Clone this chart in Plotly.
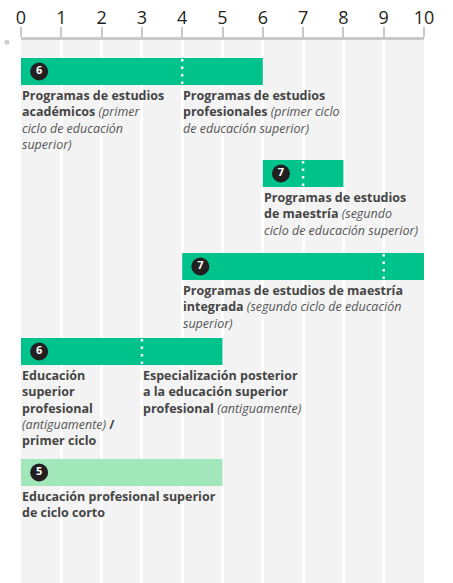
import plotly.graph_objects as go

# --- data ---
years = list(range(0, 11))
bar_start = [0, 6, 4, 0, 0]
bar_end = [6, 8, 10, 5, 5]
bar_split = [4, 7, 9, 3, None]
bar_level = ["6", "7", "7", "6", "5"]
bar_short = [False, False, False, False, True]   # short-cycle tertiary (lighter colour)
row_y = [31.5, 133.5, 226.5, 311.5, 432.5]         # vertical slot of each row (px from axis)

label_row = [0, 0, 1, 2, 3, 3, 4]
label_x = [0, 4, 6, 4, 0, 3, 0]
label_text = [
    "<b>Programas de estudios<br>académicos</b> <i>(primer<br>ciclo de educación<br>superior)</i>",
    "<b>Programas de estudios<br>profesionales</b> <i>(primer ciclo<br>de educación superior)</i>",
    "<b>Programas de estudios<br>de maestría</b> <i>(segundo<br>ciclo de educación superior)</i>",
    "<b>Programas de estudios de maestría<br>integrada</b> <i>(segundo ciclo de educación<br>superior)</i>",
    "<b>Educación<br>superior<br>profesional</b><br><i>(antiguamente)</i> <b>/</b><br><b>primer ciclo</b>",
    "<b>Especialización posterior<br>a la educación superior<br>profesional</b> <i>(antiguamente)</i>",
    "<b>Educación profesional superior<br>de ciclo corto</b>",
]

GREEN = "#00c28b"
LIGHT = "#a2e7b9"
FONT = "Open Sans"
BAR_H = 27

fig = go.Figure()

# bars
fig.add_trace(go.Bar(
    orientation="h",
    y=row_y,
    x=[e - s for s, e in zip(bar_start, bar_end)],
    base=bar_start,
    width=BAR_H,
    marker=dict(color=[LIGHT if s else GREEN for s in bar_short], line_width=0),
    hoverinfo="skip",
))

# dotted dividers
dx, dy = [], []
for sp, y in zip(bar_split, row_y):
    if sp is None:
        continue
    dx += [sp, sp, None]
    dy += [y - BAR_H / 2 + 1, y + BAR_H / 2, None]
fig.add_trace(go.Scatter(
    x=dx, y=dy, mode="lines",
    line=dict(color="white", width=2.5, dash="2.5px,5px"),
    hoverinfo="skip",
))

# level badges
fig.add_trace(go.Scatter(
    x=[s + 0.45 for s in bar_start], y=row_y,
    mode="markers+text",
    marker=dict(color="#231f20", size=18, line_width=0),
    text=bar_level, textposition="middle center",
    textfont=dict(color="white", size=11, family=FONT, weight="bold"),
    hoverinfo="skip",
))

# labels under bars
for r, x, t in zip(label_row, label_x, label_text):
    t = t.replace("<i>", '<i><span style="color:#555555">').replace("</i>", "</span></i>")
    fig.add_annotation(
        x=x, y=row_y[r] + BAR_H / 2,
        xref="x", yref="y",
        text=t, showarrow=False,
        xanchor="left", yanchor="top", align="left",
        xshift=-1,
        font=dict(family=FONT, size=12.5, color="#454545"),
    )

# small grey dot left of the axis
fig.add_shape(type="circle", xref="paper", yref="paper",
              xsizemode="pixel", ysizemode="pixel",
              xanchor=-0.035, yanchor=0.996,
              x0=-2.5, x1=2.5, y0=-2.5, y1=2.5,
              fillcolor="#cfcfcf", line_width=0)

fig.update_layout(
    width=453, height=583,
    margin=dict(l=21, r=29, t=40, b=0),
    paper_bgcolor="white",
    plot_bgcolor="#f3f3f3",
    showlegend=False,
    barmode="overlay",
    xaxis=dict(
        range=[0, 10], side="top",
        tickvals=years, ticktext=[str(v) for v in years],
        showgrid=True, gridcolor="white", gridwidth=3,
        zeroline=False,
        showline=True, linecolor="#c9c9c9", linewidth=3,
        ticks="outside", ticklen=10, tickwidth=2, tickcolor="#c9c9c9",
        ticklabelstandoff=-4,
        tickfont=dict(family=FONT, size=18, color="#231f20"),
        fixedrange=True,
    ),
    yaxis=dict(range=[543, 0], visible=False, fixedrange=True),
)

fig.write_html("out.html", config={"displayModeBar": False},
               post_script="document.body.style.margin='0';")
